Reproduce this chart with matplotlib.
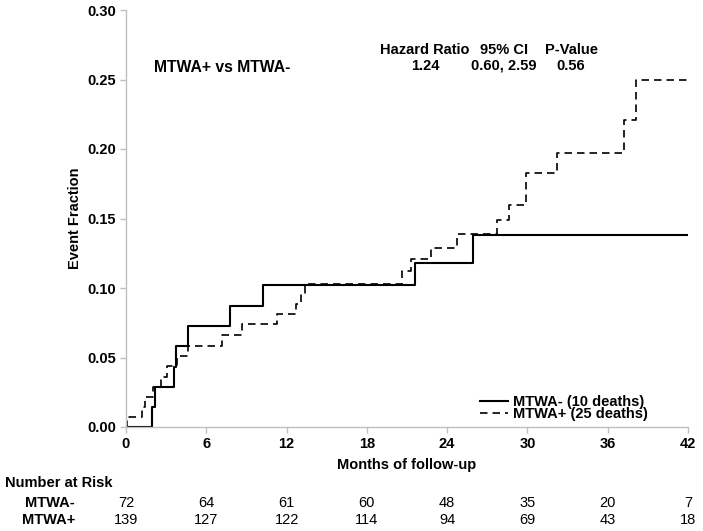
import matplotlib
matplotlib.use("Agg")
import matplotlib.pyplot as plt
from matplotlib import font_manager

# ---- data ----
neg_times = [0, 1.96, 2.2, 3.6, 3.75, 4.6, 7.8, 10.26, 21.6, 25.9, 42]
neg_values = [0, 0.0144, 0.029, 0.0435, 0.058, 0.0725, 0.087, 0.102, 0.118, 0.138, 0.138]

pos_times = [0, 0.05, 1.2, 1.4, 2.0, 2.6, 3.1, 3.8, 4.65, 7.2, 8.7, 11.26, 12.7, 13.1,
             13.4, 20.6, 21.3, 22.8, 24.7, 27.7, 28.6, 29.9, 32.2, 37.2, 38.1, 42]
pos_values = [0, 0.0072, 0.0144, 0.0216, 0.029, 0.036, 0.044, 0.051, 0.058, 0.066, 0.074,
              0.081, 0.0885, 0.096, 0.103, 0.112, 0.121, 0.129, 0.139, 0.149, 0.160, 0.183,
              0.197, 0.221, 0.250, 0.250]

x_ticks = [0, 6, 12, 18, 24, 30, 36, 42]
y_ticks = [0.00, 0.05, 0.10, 0.15, 0.20, 0.25, 0.30]
risk_neg = [72, 64, 61, 60, 48, 35, 20, 7]
risk_pos = [139, 127, 122, 114, 94, 69, 43, 18]

neg_label = "MTWA- (10 deaths)"
pos_label = "MTWA+ (25 deaths)"
stat_headers = ["Hazard Ratio", "95% CI", "P-Value"]
stat_values = ["1.24", "0.60, 2.59", "0.56"]

# ---- fonts ----
plt.rcParams['font.family'] = ['Liberation Sans', 'DejaVu Sans']
names = {f.name for f in font_manager.fontManager.ttflist}
narrow = 'Liberation Sans Narrow' if 'Liberation Sans Narrow' in names else 'Liberation Sans'

W, H = 703, 531
fig = plt.figure(figsize=(W / 100, H / 100), dpi=100)
x0, x1 = 126, 688
y0, y1 = 427, 10
ax = fig.add_axes([x0 / W, 1 - y0 / H, (x1 - x0) / W, (y0 - y1) / H])

ax.step(neg_times, neg_values, where='post', color='black', lw=1.5, label=neg_label)
ax.step(pos_times, pos_values, where='post', color='black', lw=1.2,
        linestyle=(0, (4.5, 3)), label=pos_label)

ax.set_xlim(0, 42)
ax.set_ylim(0, 0.30)
ax.set_xticks(x_ticks)
ax.set_yticks(y_ticks)
ax.set_xticklabels([str(v) for v in x_ticks], fontsize=10.5, fontweight='bold')
ax.set_yticklabels([f"{v:.2f}" for v in y_ticks], fontsize=10.5, fontweight='bold')
for s in ['top', 'right']:
    ax.spines[s].set_visible(False)
for s in ['left', 'bottom']:
    ax.spines[s].set_color('#c0c0c0')
    ax.spines[s].set_linewidth(1.0)
ax.tick_params(axis='both', colors='#c0c0c0', length=4, width=1, labelcolor='black', pad=3)

ax.set_xlabel("Months of follow-up", fontsize=10.5, fontweight='bold', labelpad=5)
ax.set_ylabel("Event Fraction", fontsize=10.5, fontweight='bold', labelpad=4)


def fx(px):
    return px / W


def fy(py):
    return 1 - py / H


leg = ax.legend(loc='center left', bbox_to_anchor=(fx(480), fy(408)),
                bbox_transform=fig.transFigure, frameon=False,
                prop={'size': 10.5, 'weight': 'bold'}, handlelength=1.95,
                handletextpad=0.3, labelspacing=-0.1, borderaxespad=0, borderpad=0)

fig.text(fx(222), fy(67), "MTWA+ vs MTWA-", ha='center', va='center',
         fontsize=11.3, fontweight='bold')
for cx, hdr, val in zip([425, 504, 571], stat_headers, stat_values):
    fig.text(fx(cx), fy(50), hdr, ha='center', va='center', fontsize=10.5, fontweight='bold')
    fig.text(fx(cx), fy(66), val, ha='center', va='center', fontsize=10.5, fontweight='bold')

# Number at risk table
fig.text(fx(5), fy(483), "Number at Risk", ha='left', va='center', fontsize=10.5,
         fontweight='bold', family=narrow)
fig.text(fx(75), fy(503), "MTWA-", ha='right', va='center', fontsize=10.5,
         fontweight='bold', family=narrow)
fig.text(fx(75), fy(520), "MTWA+", ha='right', va='center', fontsize=10.5,
         fontweight='bold', family=narrow)
trans = matplotlib.transforms.blended_transform_factory(ax.transData, fig.transFigure)
for t, a, b in zip(x_ticks, risk_neg, risk_pos):
    ax.text(t, fy(503), str(a), transform=trans, ha='center', va='center',
            fontsize=10.5, family=narrow, clip_on=False)
    ax.text(t, fy(520), str(b), transform=trans, ha='center', va='center',
            fontsize=10.5, family=narrow, clip_on=False)

fig.savefig("out.png", dpi=100)
